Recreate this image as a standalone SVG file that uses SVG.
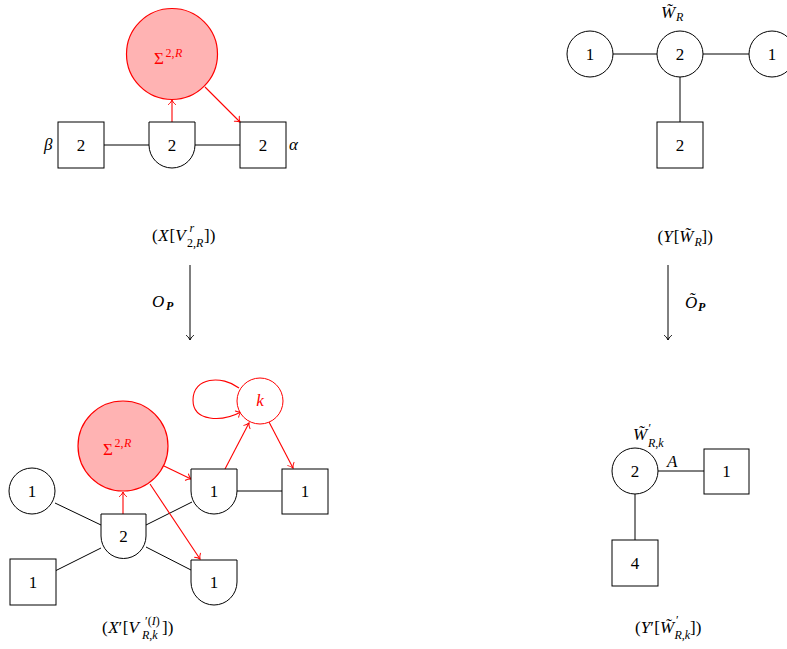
<svg xmlns="http://www.w3.org/2000/svg" width="787" height="649" viewBox="0 0 787 649">
<style>
.t{font-family:"Liberation Serif","DejaVu Serif",serif;font-size:17px;fill:#000}
.c{text-anchor:middle}
.i{font-style:italic}
.s{font-size:12px}
.b{font-weight:bold}
.r{fill:#ff0000}
.e{stroke:#000;stroke-width:1;fill:none}
.re{stroke:#ff0000;stroke-width:1.1;fill:none}
.box{fill:#fff;stroke:#000;stroke-width:1}
.sig{fill:#ffb3b3;stroke:#ff0000;stroke-width:1.2}
.kc{fill:#fff;stroke:#ff0000;stroke-width:1}
</style>
<defs>
<marker id="ar" viewBox="-6 -5 8 10" refX="0" refY="0" markerWidth="8" markerHeight="10" markerUnits="userSpaceOnUse" orient="auto">
<path d="M-4.5,-3.5 C-3,-1.5 -1,-0.4 0,0 C-1,0.4 -3,1.5 -4.5,3.5" fill="none" stroke="#ff0000" stroke-width="1" stroke-linecap="round"/>
</marker>
<marker id="ab" viewBox="-6 -5 8 10" refX="0" refY="0" markerWidth="8" markerHeight="10" markerUnits="userSpaceOnUse" orient="auto">
<path d="M-4.5,-3.5 C-3,-1.5 -1,-0.4 0,0 C-1,0.4 -3,1.5 -4.5,3.5" fill="none" stroke="#000" stroke-width="1" stroke-linecap="round"/>
</marker>
</defs>
<rect width="787" height="649" fill="#fff"/>

<g id="connectors">
<line class="e" x1="104" y1="145" x2="149" y2="145"/>
<line class="e" x1="195" y1="145" x2="240" y2="145"/>
<line class="re" x1="172" y1="122" x2="172" y2="100" marker-end="url(#ar)"/>
<line class="re" x1="205" y1="87" x2="240" y2="122" marker-end="url(#ar)"/>
<line class="e" x1="190" y1="265" x2="190" y2="340" marker-end="url(#ab)"/>
<line class="e" x1="668" y1="265" x2="668" y2="340" marker-end="url(#ab)"/>
<line class="e" x1="612" y1="54" x2="657" y2="54"/>
<line class="e" x1="703" y1="54" x2="749" y2="54"/>
<line class="e" x1="680" y1="77" x2="680" y2="122"/>
<line class="e" x1="55" y1="503" x2="101" y2="525"/>
<line class="e" x1="55" y1="571" x2="101" y2="548"/>
<line class="e" x1="146" y1="525" x2="192" y2="502"/>
<line class="e" x1="146" y1="547" x2="191" y2="570"/>
<line class="e" x1="237" y1="491" x2="282" y2="491"/>
<line class="re" x1="123" y1="514" x2="123" y2="492" marker-end="url(#ar)"/>
<line class="re" x1="164" y1="466" x2="191" y2="479" marker-end="url(#ar)"/>
<line class="re" x1="150" y1="484" x2="200" y2="559" marker-end="url(#ar)"/>
<line class="re" x1="225" y1="469" x2="249" y2="423" marker-end="url(#ar)"/>
<line class="re" x1="269" y1="422" x2="293" y2="468" marker-end="url(#ar)"/>
<path class="re" d="M239,388 C222,375 193,377 193,400 C193,422 222,422 241,412" marker-end="url(#ar)"/>
<line class="e" x1="658" y1="471" x2="704" y2="471"/>
<line class="e" x1="635" y1="494" x2="635" y2="540"/>
</g>

<g id="sigma-top">
<circle class="sig" cx="172" cy="54" r="45.5"/>
<text class="t r"><tspan x="154" y="64">Σ</tspan><tspan x="165.5" y="57" class="s">2,</tspan><tspan class="s i" dx="0.5">R</tspan></text>
</g>
<g id="beta-sq">
<rect class="box" x="58" y="122" width="46" height="46"/>
<text class="t c" x="81" y="151">2</text>
<text class="t i" x="44" y="150">β</text>
</g>
<g id="gauge-top">
<path class="box" d="M149,122 L195,122 L195,145 A23,23 0 0 1 149,145 Z"/>
<text class="t c" x="172" y="151">2</text>
</g>
<g id="alpha-sq">
<rect class="box" x="240" y="122" width="46" height="46"/>
<text class="t c" x="263" y="151">2</text>
<text class="t i" x="289" y="150">α</text>
</g>
<g id="label-X">
<text class="t"><tspan x="152" y="241">(</tspan><tspan class="i" dx="0.5">X</tspan><tspan dx="1">[</tspan><tspan class="i">V</tspan><tspan x="189.5" y="232" class="s i">r</tspan><tspan x="187" y="246.5" class="s">2,</tspan><tspan class="s i">R</tspan><tspan x="204" y="241">])</tspan></text>
</g>

<g id="map-left">
<text class="t"><tspan x="152" y="307" class="i">O</tspan><tspan x="166" y="310" class="s i b">P</tspan></text>
</g>
<g id="map-right">
<text class="t"><tspan x="685" y="308" class="i">Õ</tspan><tspan x="698" y="311" class="s i b">P</tspan></text>
</g>

<g id="W-left">
<circle class="box" cx="590" cy="54" r="23"/>
<text class="t c" x="590" y="60">1</text>
</g>
<g id="W-center">
<circle class="box" cx="680" cy="54" r="23"/>
<text class="t c" x="680" y="60">2</text>
<text class="t"><tspan x="661" y="18" class="i">W̃</tspan><tspan x="676" y="21" class="s i">R</tspan></text>
</g>
<g id="W-right">
<circle class="box" cx="772" cy="54" r="23"/>
<text class="t c" x="772" y="60">1</text>
</g>
<g id="W-sq">
<rect class="box" x="657" y="122" width="46" height="46"/>
<text class="t c" x="680" y="151">2</text>
</g>
<g id="label-Y">
<text class="t"><tspan x="657.5" y="242">(</tspan><tspan class="i">Y</tspan><tspan dx="1">[</tspan><tspan class="i">W̃</tspan><tspan x="694.5" y="246" class="s i">R</tspan><tspan x="701.5" y="242">])</tspan></text>
</g>

<g id="sigma-bot">
<circle class="sig" cx="123" cy="446" r="45"/>
<text class="t r"><tspan x="103" y="455">Σ</tspan><tspan x="114.5" y="447" class="s">2,</tspan><tspan class="s i" dx="0.5">R</tspan></text>
</g>
<g id="k-node">
<circle class="kc" cx="260" cy="401" r="23"/>
<text class="t c i r" x="260" y="406">k</text>
</g>
<g id="u1-circle">
<circle class="box" cx="32" cy="491" r="23"/>
<text class="t c" x="32" y="497">1</text>
</g>
<g id="u1-sq">
<rect class="box" x="10" y="559" width="46" height="46"/>
<text class="t c" x="33" y="588">1</text>
</g>
<g id="gauge2">
<path class="box" d="M101,514 L146,514 L146,536 A22.5,22.5 0 0 1 101,536 Z"/>
<text class="t c" x="123.5" y="542">2</text>
</g>
<g id="gauge1-up">
<path class="box" d="M191,469 L237,469 L237,491 A23,23 0 0 1 191,491 Z"/>
<text class="t c" x="214" y="497">1</text>
</g>
<g id="gauge1-down">
<path class="box" d="M191,560 L237,560 L237,582 A23,23 0 0 1 191,582 Z"/>
<text class="t c" x="214" y="588">1</text>
</g>
<g id="sq1-right">
<rect class="box" x="282" y="469" width="46" height="45"/>
<text class="t c" x="305" y="497">1</text>
</g>
<g id="label-Xp">
<text class="t"><tspan x="102" y="633">(</tspan><tspan class="i" dx="0.5">X</tspan><tspan>′</tspan><tspan dx="0.5">[</tspan><tspan class="i">V</tspan><tspan x="145" y="625" class="s">′(</tspan><tspan class="s i">I</tspan><tspan class="s">)</tspan><tspan x="142" y="638.5" class="s i">R</tspan><tspan class="s">,</tspan><tspan class="s i">k</tspan><tspan x="162" y="633">])</tspan></text>
</g>

<g id="Wp-node">
<circle class="box" cx="635" cy="471" r="23"/>
<text class="t c" x="635" y="477">2</text>
<text class="t"><tspan x="633" y="440" class="i">W̃</tspan><tspan x="648.5" y="432" class="s">′</tspan><tspan x="648" y="446.5" class="s i">R</tspan><tspan class="s">,</tspan><tspan class="s i">k</tspan></text>
<text class="t i" x="667" y="467">A</text>
</g>
<g id="Wp-sq1">
<rect class="box" x="704" y="449" width="45" height="45"/>
<text class="t c" x="726.5" y="477">1</text>
</g>
<g id="Wp-sq4">
<rect class="box" x="612" y="540" width="46" height="46"/>
<text class="t c" x="635" y="569">4</text>
</g>
<g id="label-Yp">
<text class="t"><tspan x="635" y="633">(</tspan><tspan class="i">Y</tspan><tspan>′</tspan><tspan dx="0.5">[</tspan><tspan class="i">W̃</tspan><tspan x="676" y="624" class="s">′</tspan><tspan x="674.5" y="638.5" class="s i">R</tspan><tspan class="s">,</tspan><tspan class="s i">k</tspan><tspan x="690" y="633">])</tspan></text>
</g>
</svg>
